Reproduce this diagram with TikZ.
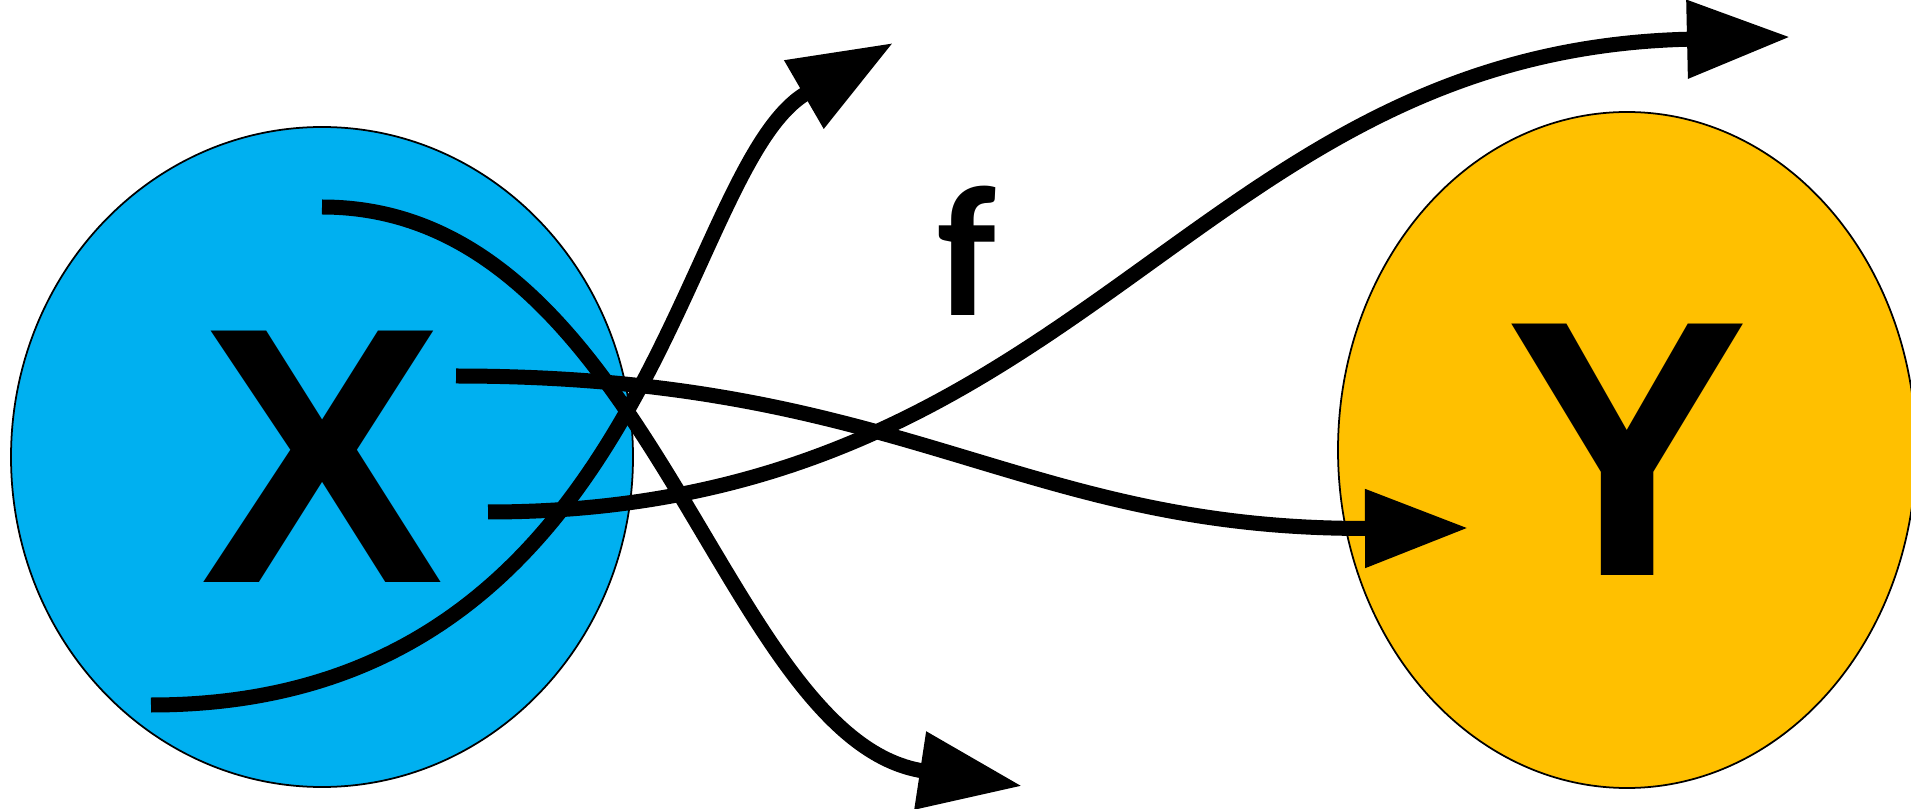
\documentclass[tikz,border=0pt]{standalone}
\usepackage{fontspec}
\setmainfont{Carlito}
\newfontfamily\setfont{Liberation Sans}
\usepackage{xcolor}
\usepackage{tikz}
\usetikzlibrary{arrows.meta,shapes.geometric}

\definecolor{setblue}{HTML}{00B0F0}
\definecolor{setgold}{HTML}{FFC000}

\begin{document}
\begin{tikzpicture}[
  setbox/.style={ellipse,draw,line width=0.5pt,inner sep=0pt,font=\setfont\fontsize{104}{106}\selectfont\bfseries},
  arr/.style={line width=0.15cm,-{Triangle[length=1.03cm,width=0.75cm]}}
]
\useasboundingbox (0,0) rectangle (19.11,8.08);

\node[setbox,fill=setblue,minimum width=6.22cm,minimum height=6.60cm] (X) at (3.22,3.51) {X};
\node[setbox,fill=setgold,minimum width=5.78cm,minimum height=6.76cm] (Y) at (16.27,3.58) {Y};
\node[font=\fontsize{53}{55}\selectfont\bfseries] (f) at (9.67,5.57) {f};

\coordinate (a1) at (3.22,6.01);
\coordinate (a2) at (10.22,0.22);
\coordinate (b1) at (1.51,1.03);
\coordinate (b2) at (8.93,7.65);
\coordinate (c1) at (4.56,4.32);
\coordinate (c2) at (14.68,2.80);
\coordinate (d1) at (4.88,2.96);
\coordinate (d2) at (17.90,7.71);

\draw[arr] (a1) .. controls (6.50,6.01) and (7.20,0.68) .. (a2);
\draw[arr] (b1) .. controls (6.51,1.03) and (6.77,6.40) .. (b2);
\draw[arr] (c1) .. controls (9.06,4.32) and (10.18,2.78) .. (c2);
\draw[arr] (d1) .. controls (10.88,2.96) and (11.90,7.58) .. (d2);
\end{tikzpicture}
\end{document}
